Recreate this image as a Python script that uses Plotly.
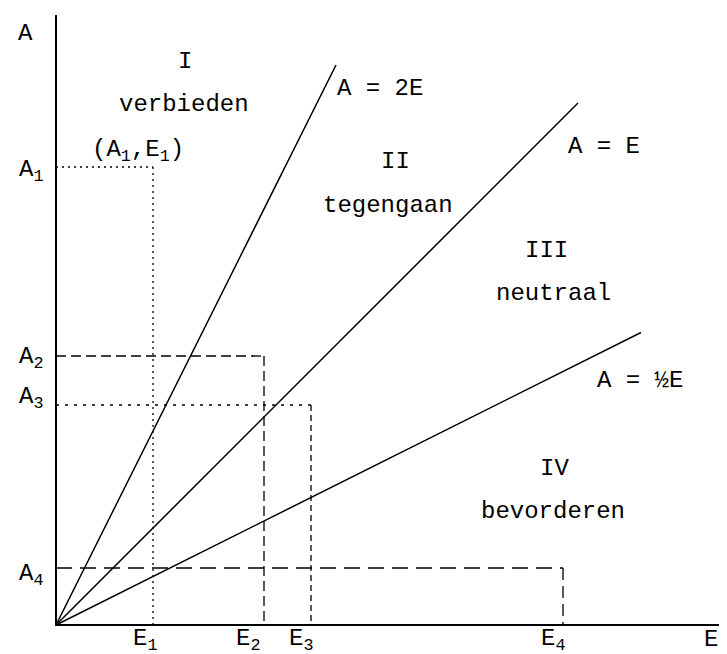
import plotly.graph_objects as go

# values (same scale on both axes)
e_vals = [97, 208, 255, 507]      # E1..E4
a_vals = [458, 269, 220, 57]      # A1..A4
slopes = [2, 1, 0.5]              # A = 2E, A = E, A = 1/2 E
line_ends = [280, 522, 585]       # E where each line stops
line_labels = ["A = 2E", "A = E", "A = ½E"]
e_labels = ["E<sub>1</sub>", "E<sub>2</sub>", "E<sub>3</sub>", "E<sub>4</sub>"]
a_labels = ["A<sub>1</sub>", "A<sub>2</sub>", "A<sub>3</sub>", "A<sub>4</sub>"]
regions = [("I", "verbieden"), ("II", "tegengaan"),
           ("III", "neutraal"), ("IV", "bevorderen")]

FONT = "Liberation Mono"
fig = go.Figure()

# axes
fig.add_trace(go.Scatter(x=[0, 0, 679], y=[610, 0, 0], mode="lines",
                         line=dict(color="black", width=2)))

# the three rays
for s, e_end in zip(slopes, line_ends):
    fig.add_trace(go.Scatter(x=[0, e_end], y=[0, s * e_end], mode="lines",
                             line=dict(color="black", width=1.5)))

# guide lines for each (A_i, E_i) pair: horizontal dash, vertical dash
dashes = [("2px,4px", "2px,4px"), ("10px,5px", "10px,5px"),
          ("3px,6px", "6px,4px"), ("16px,8px", "12px,6px")]
for e, a, (dh, dv) in zip(e_vals, a_vals, dashes):
    fig.add_trace(go.Scatter(x=[0, e], y=[a, a], mode="lines",
                             line=dict(color="black", width=1.3, dash=dh)))
    fig.add_trace(go.Scatter(x=[e, e], y=[a, 0], mode="lines",
                             line=dict(color="black", width=1.3, dash=dv)))

font = dict(family=FONT, size=24, color="black")
ann = []

# axis names
ann.append(dict(x=-31, y=592, text="A"))
ann.append(dict(x=655, y=-14, text="E"))

# tick-like labels
for e, lab, dx in zip(e_vals, e_labels, [-8, -16, -10, -10]):
    ann.append(dict(x=e + dx, y=-15, text=lab))
for a, lab, dy in zip(a_vals, a_labels, [-4, -2, 7, -7]):
    ann.append(dict(x=-25, y=a + dy, text=lab))

ann.append(dict(x=82, y=474, text="(A<sub>1</sub>,E<sub>1</sub>)"))

# line labels
for (lx, ly), lab in zip([(324, 537), (548, 479), (584, 245)], line_labels):
    ann.append(dict(x=lx, y=ly, text=lab))

# region names
pos = [((129, 564), (128, 521)), ((339, 464), (332, 420)),
       ((490, 375), (497, 332)), ((498, 157), (497, 114))]
for (num, word), (p1, p2) in zip(regions, pos):
    ann.append(dict(x=p1[0], y=p1[1], text=num))
    ann.append(dict(x=p2[0], y=p2[1], text=word))

for a in ann:
    a.update(xref="x", yref="y", showarrow=False, font=font,
             xanchor="center", yanchor="middle")

fig.update_layout(
    width=727, height=654,
    margin=dict(l=0, r=0, t=0, b=0),
    paper_bgcolor="white", plot_bgcolor="white",
    showlegend=False,
    annotations=ann,
    xaxis=dict(range=[-48, 679], visible=False, fixedrange=True),
    yaxis=dict(range=[-37, 617], visible=False, fixedrange=True),
)

fig.write_html("out.html")
